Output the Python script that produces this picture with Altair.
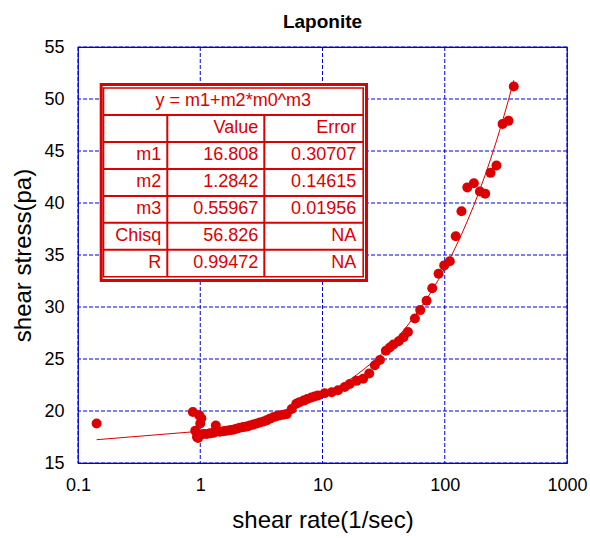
import altair as alt
import pandas as pd

# Laponite flow curve: shear rate (1/sec) vs shear stress (pa)
shear_rate = [
    0.142, 0.87, 0.98, 1.02, 1.0, 0.91, 0.96, 0.94, 0.96, 1.0,
    1.06, 1.13, 1.2, 1.28, 1.34, 1.45, 1.55, 1.64, 1.75, 1.86,
    1.98, 2.11, 2.25, 2.39, 2.55, 2.71, 2.9, 3.08, 3.3, 3.49,
    3.7, 3.96, 4.2, 4.5, 4.8, 5.1, 5.6, 6.1, 6.5, 7.0,
    7.5, 8.1, 8.6, 9.2, 10.4, 11.9, 13.4, 15.2, 16.7, 19.0,
    21.5, 24.1, 26.8, 29.5, 33.0, 35.5, 38.0, 42.0, 46.0, 50.0,
    57.0, 63.0, 71.0, 79.0, 89.0, 99.0, 110.0, 123.0, 137.0, 153.0,
    173.0, 194.0, 214.0, 237.0, 265.0, 297.0, 332.0, 367.0,
]
shear_stress = [
    18.8, 19.9, 19.6, 19.3, 18.8, 18.1, 17.65, 17.5, 17.4, 17.75,
    17.8, 17.8, 17.85, 17.9, 18.6, 18.0, 18.05, 18.1, 18.15, 18.2,
    18.3, 18.4, 18.45, 18.5, 18.6, 18.7, 18.8, 18.9, 19.0, 19.1,
    19.25, 19.4, 19.5, 19.6, 19.65, 19.7, 20.2, 20.7, 20.85, 21.0,
    21.15, 21.3, 21.4, 21.5, 21.7, 21.8, 22.0, 22.3, 22.6, 22.9,
    23.1, 23.6, 24.4, 24.9, 25.8, 26.1, 26.4, 26.7, 27.1, 27.6,
    28.9, 29.7, 30.6, 31.8, 33.2, 34.0, 34.4, 36.8, 39.2, 41.5,
    41.9, 41.1, 40.9, 42.9, 43.6, 47.6, 47.9, 51.2,
]

# Curve-fit results box
fit_formula = "y = m1+m2*m0^m3"
fit_header = ["", "Value", "Error"]
fit_names = ["m1", "m2", "m3", "Chisq", "R"]
fit_values = ["16.808", "1.2842", "0.55967", "56.826", "0.99472"]
fit_errors = ["0.30707", "0.14615", "0.01956", "NA", "NA"]

x_ticks = [0.1, 1, 10, 100, 1000]
y_ticks = [15, 20, 25, 30, 35, 40, 45, 50, 55]

RED = "#dc0000"
BLUE = "#0000dd"
FONT = "Liberation Sans"
W, H = 489, 416

m1, m2, m3 = (float(v) for v in fit_values[:3])

pts = pd.DataFrame({"rate": shear_rate, "stress": shear_stress})
fit = pd.DataFrame({"rate": sorted(shear_rate)})
fit["stress"] = m1 + m2 * fit["rate"] ** m3

xs = alt.Scale(type="log", domain=[0.1, 1000], nice=False)
ys = alt.Scale(domain=[15, 55], nice=False, zero=False)

axis_style = dict(grid=False, domain=False, ticks=False)
x_axis = alt.Axis(values=x_ticks, format="~g", labelFlush=False,
                  labelPadding=13, titlePadding=14, **axis_style)
y_axis = alt.Axis(values=y_ticks, labelPadding=14, titlePadding=8, **axis_style)

enc_x = alt.X("rate:Q", scale=xs, title="shear rate(1/sec)", axis=x_axis)
enc_y = alt.Y("stress:Q", scale=ys, title="shear stress(pa)", axis=y_axis)

# dashed blue grid drawn as rules at the tick values
vgrid = alt.Chart(pd.DataFrame({"rate": x_ticks})).mark_rule(
    color=BLUE, strokeWidth=1, strokeDash=[4, 2]
).encode(x=enc_x)
hgrid = alt.Chart(pd.DataFrame({"stress": y_ticks})).mark_rule(
    color=BLUE, strokeWidth=1, strokeDash=[4, 2]
).encode(y=enc_y)

points = alt.Chart(pts).mark_circle(size=100, color=RED, opacity=1).encode(x=enc_x, y=enc_y)
curve = alt.Chart(fit).mark_line(color=RED, strokeWidth=1).encode(x=enc_x, y=enc_y)
data_layer = alt.layer(vgrid, hgrid, points, curve)

# Table layout in plot-area pixels
OL, OT, OR, OB = 23.2, 37.5, 288.5, 233.5      # outer frame
IL, IT, IR, IB = 25.5, 41.0, 285.2, 229.8      # inner frame
C1, C2 = 89.3, 186.3                            # column separators
n_rows = 2 + len(fit_names)
RH = (IB - IT) / n_rows
row_y = [IT + RH * k for k in range(n_rows + 1)]

segs = []
for k in range(1, n_rows):
    segs.append({"x": IL, "x2": IR, "y": row_y[k], "y2": row_y[k]})
for c in (C1, C2):
    segs.append({"x": c, "x2": c, "y": row_y[1], "y2": IB})
segs_df = pd.DataFrame(segs)

bg = alt.Chart(pd.DataFrame([{"x": OL, "x2": OR, "y": OT, "y2": OB}])).mark_rect(
    fill="white", stroke=RED, strokeWidth=3
).encode(
    x=alt.X("x:Q", scale=None), x2="x2:Q",
    y=alt.Y("y:Q", scale=None), y2="y2:Q",
)
inner = alt.Chart(pd.DataFrame([{"x": IL, "x2": IR, "y": IT, "y2": IB}])).mark_rect(
    fill="white", fillOpacity=0, stroke=RED, strokeWidth=1.6
).encode(
    x=alt.X("x:Q", scale=None), x2="x2:Q",
    y=alt.Y("y:Q", scale=None), y2="y2:Q",
)
rules = alt.Chart(segs_df).mark_rule(color=RED, strokeWidth=2).encode(
    x=alt.X("x:Q", scale=None), x2="x2:Q",
    y=alt.Y("y:Q", scale=None), y2="y2:Q",
)

cells = [{"t": fit_formula, "x": (IL + IR) / 2, "y": (row_y[0] + row_y[1]) / 2, "a": "center"}]
cols_right = [C1 - 6, C2 - 6, IR - 7]
rows_text = [fit_header] + [[n, v, e] for n, v, e in zip(fit_names, fit_values, fit_errors)]
for r, row in enumerate(rows_text, start=1):
    cy = (row_y[r] + row_y[r + 1]) / 2
    for c, t in enumerate(row):
        if t:
            cells.append({"t": t, "x": cols_right[c], "y": cy, "a": "right"})
cells_df = pd.DataFrame(cells)

def text_layer(align):
    return alt.Chart(cells_df[cells_df["a"] == align]).mark_text(
        align=align, baseline="middle", font=FONT, fontSize=18, color=RED
    ).encode(
        x=alt.X("x:Q", scale=None), y=alt.Y("y:Q", scale=None), text="t:N"
    )

table = alt.layer(bg, inner, rules, text_layer("center"), text_layer("right"))

chart = alt.layer(data_layer, table).resolve_scale(
    x="independent", y="independent"
).properties(
    width=W, height=H,
    title=alt.TitleParams("Laponite", font=FONT, fontSize=19, fontWeight="bold",
                          color="black", anchor="middle", offset=6),
    autosize=alt.AutoSizeParams(type="none"),
    padding={"left": 78, "top": 47, "right": 23, "bottom": 75},
).configure_view(
    stroke=BLUE, strokeWidth=1.2
).configure_axis(
    labelFont=FONT, labelFontSize=18, labelColor="black",
    titleFont=FONT, titleFontSize=24, titleFontWeight="normal", titleColor="black",
)

chart.save("out.html", embed_options={"renderer": "svg", "actions": False})
